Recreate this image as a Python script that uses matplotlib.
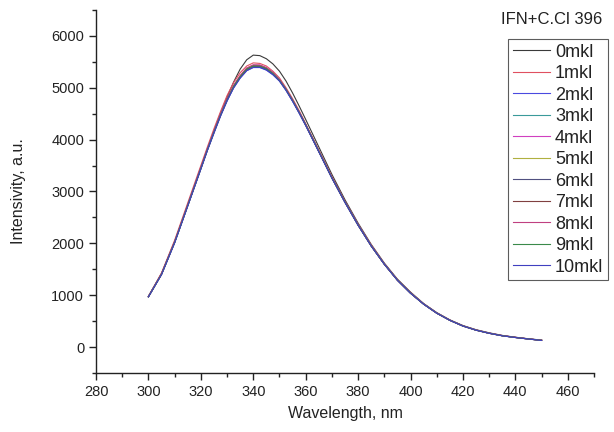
import numpy as np
import matplotlib
matplotlib.use("Agg")
import matplotlib.pyplot as plt
from matplotlib.ticker import MultipleLocator

plt.rcParams['font.family'] = ['Liberation Sans', 'DejaVu Sans']

wavelength = [300, 305, 310, 315, 320, 322.5, 325, 327.5, 330, 332.5, 335, 337.5, 340,
              342.5, 345, 347.5, 350, 352.5, 355, 357.5, 360, 365, 370, 375, 380, 385,
              390, 395, 400, 405, 410, 415, 420, 425, 430, 435, 440, 445, 450]

labels = ["0mkl", "1mkl", "2mkl", "3mkl", "4mkl", "5mkl", "6mkl", "7mkl", "8mkl", "9mkl", "10mkl"]

s0 = [980, 1420, 2030, 2740, 3460, 3820, 4170, 4510, 4820, 5110, 5360, 5540, 5630,
      5620, 5560, 5460, 5320, 5130, 4900, 4650, 4390, 3860, 3330, 2840, 2390, 1980,
      1620, 1310, 1060, 840, 665, 525, 415, 335, 275, 225, 190, 160, 135]
s1 = [975, 1430, 2060, 2780, 3500, 3860, 4210, 4540, 4850, 5100, 5290, 5420, 5480,
      5470, 5420, 5320, 5190, 5000, 4790, 4560, 4310, 3800, 3290, 2810, 2370, 1970,
      1610, 1300, 1050, 835, 660, 520, 410, 330, 270, 222, 188, 158, 132]
s2 = [970, 1400, 2010, 2720, 3430, 3790, 4120, 4450, 4740, 5000, 5190, 5330, 5390,
      5390, 5340, 5250, 5130, 4950, 4740, 4510, 4270, 3770, 3260, 2790, 2350, 1950,
      1600, 1290, 1040, 830, 655, 518, 408, 328, 268, 220, 186, 157, 130]
s3 = [972, 1405, 2020, 2730, 3440, 3800, 4140, 4470, 4760, 5020, 5210, 5360, 5420,
      5420, 5370, 5280, 5150, 4970, 4760, 4530, 4290, 3780, 3270, 2800, 2360, 1955,
      1600, 1292, 1042, 830, 656, 518, 408, 328, 268, 220, 186, 157, 130]
s4 = [975, 1410, 2030, 2740, 3460, 3820, 4160, 4490, 4780, 5040, 5230, 5380, 5440,
      5440, 5390, 5300, 5160, 4980, 4770, 4540, 4290, 3780, 3270, 2800, 2360, 1955,
      1600, 1292, 1042, 830, 656, 518, 408, 328, 268, 220, 186, 157, 130]
s5 = [970, 1405, 2020, 2730, 3450, 3810, 4150, 4480, 4770, 5030, 5220, 5370, 5430,
      5430, 5380, 5290, 5150, 4970, 4760, 4530, 4280, 3770, 3260, 2790, 2350, 1950,
      1598, 1290, 1040, 828, 654, 516, 406, 326, 266, 218, 185, 156, 129]
s6 = [968, 1400, 2015, 2725, 3440, 3800, 4140, 4460, 4760, 5010, 5200, 5350, 5410,
      5410, 5360, 5270, 5140, 4960, 4750, 4520, 4280, 3770, 3260, 2790, 2350, 1950,
      1598, 1290, 1040, 828, 654, 516, 406, 326, 266, 218, 185, 156, 129]
s7 = [972, 1410, 2025, 2735, 3450, 3810, 4150, 4475, 4770, 5020, 5215, 5360, 5420,
      5425, 5375, 5285, 5150, 4970, 4760, 4530, 4290, 3780, 3270, 2800, 2355, 1952,
      1600, 1291, 1041, 829, 655, 517, 407, 327, 267, 219, 186, 156, 130]
s8 = [975, 1415, 2035, 2745, 3465, 3825, 4165, 4495, 4785, 5045, 5235, 5380, 5440,
      5435, 5385, 5290, 5160, 4975, 4765, 4535, 4290, 3780, 3270, 2800, 2355, 1952,
      1600, 1291, 1041, 829, 655, 517, 407, 327, 267, 219, 186, 156, 130]
s9 = [970, 1405, 2020, 2730, 3445, 3805, 4145, 4475, 4765, 5025, 5215, 5360, 5420,
      5415, 5370, 5275, 5145, 4965, 4755, 4525, 4285, 3775, 3265, 2795, 2352, 1950,
      1598, 1290, 1040, 828, 654, 516, 406, 326, 266, 218, 185, 156, 129]
s10 = [968, 1398, 2010, 2720, 3435, 3795, 4135, 4460, 4755, 4995, 5185, 5330, 5395,
       5395, 5345, 5255, 5130, 4950, 4740, 4515, 4275, 3765, 3258, 2788, 2348, 1948,
       1596, 1288, 1038, 827, 653, 515, 405, 325, 265, 217, 184, 155, 128]

series = [s0, s1, s2, s3, s4, s5, s6, s7, s8, s9, s10]
colors = ['#3a3a3a', '#e05060', '#4a4ae0', '#3a9a9a', '#d040c0', '#b0b040',
          '#505080', '#804040', '#c04080', '#3a8a4a', '#4040c0']

fig = plt.figure(figsize=(6.14, 4.32), dpi=100)
ax = fig.add_axes([96/614, 1-373/432, (594-96)/614, (373-10)/432])

for lab, ys, c in zip(labels, series, colors):
    ax.plot(wavelength, ys, color=c, lw=0.8, label=lab)

ax.set_xlim(280, 470)
ax.set_ylim(-500, 6500)
ax.xaxis.set_major_locator(MultipleLocator(20))
ax.xaxis.set_minor_locator(MultipleLocator(10))
ax.yaxis.set_major_locator(MultipleLocator(1000))
ax.yaxis.set_minor_locator(MultipleLocator(500))
for s in ['top', 'right']:
    ax.spines[s].set_visible(False)
for s in ['left', 'bottom']:
    ax.spines[s].set_linewidth(1.0)
    ax.spines[s].set_color('#222222')
ax.tick_params(which='major', direction='out', length=5, width=1, labelsize=10.5, colors='#222222')
ax.tick_params(which='minor', direction='out', length=3, width=1, colors='#222222')

ax.set_xlabel("Wavelength, nm", fontsize=11.5, color='#222222', labelpad=5)
ax.set_ylabel("Intensivity, a.u.", fontsize=11.5, color='#222222')
ax.yaxis.set_label_coords(-0.14, 0.5)

leg = ax.legend(loc='upper left', bbox_to_anchor=(508/614, 1-39/432), bbox_transform=fig.transFigure,
                fontsize=13, frameon=True, fancybox=False, handlelength=2.1, handletextpad=0.25,
                labelspacing=0.25, borderpad=0.25, borderaxespad=0)
leg.get_frame().set_edgecolor('#333333')
leg.get_frame().set_linewidth(0.8)
for t in leg.get_texts():
    t.set_color('#222222')

fig.text(552/614, 1-20/432, "IFN+C.Cl 396", fontsize=12, ha='center', va='center', color='#222222')

fig.savefig("out.png", dpi=100)
